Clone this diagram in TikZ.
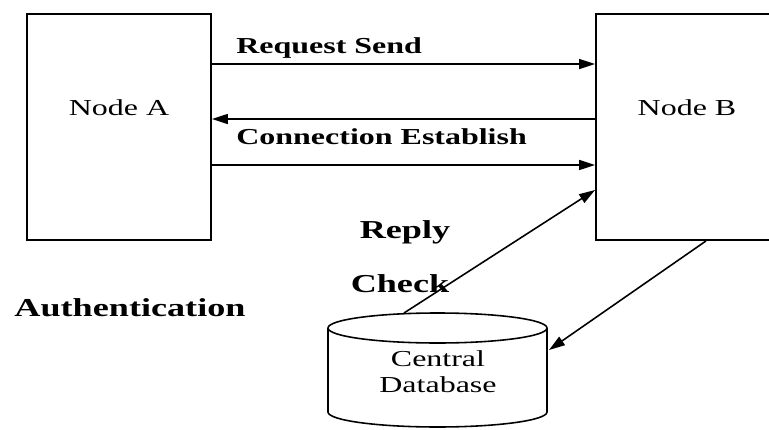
\documentclass[tikz,border=0pt]{standalone}
\usepackage{fontspec}
\setmainfont[FakeStretch=1.4]{Liberation Serif}
\usetikzlibrary{arrows.meta}
\tikzset{
  box/.style={
    draw,
    line width=1.1pt,
    minimum width=3.68cm,
    minimum height=4.52cm,
    inner sep=0pt
  },
  msg/.style={
    line width=0.9pt,
    -{Triangle[length=0.32cm,width=0.2cm]}
  },
  plain/.style={
    inner sep=0pt,
    font=\fontsize{13}{14.7}\selectfont
  },
  heading/.style={
    inner sep=0pt,
    font=\fontsize{13}{14.7}\selectfont\bfseries
  },
  bigheading/.style={
    inner sep=0pt,
    font=\fontsize{14.7}{16}\selectfont\bfseries
  }
}

\begin{document}
\begin{tikzpicture}[x=0.02cm,y=-0.02cm]
  \useasboundingbox (0,0) rectangle (769,430);
  % the two hosts
  \node[box] (nodeA) at (119,127) {};
  \node[box] (nodeB) at (688,127) {};
  \node[plain] (labelA) at (119,108) {Node A};
  \node[plain] (labelB) at (687,108) {Node B};
  % database drum
  \draw[line width=0.9pt] (328,328) -- (328,412)
    arc[start angle=180,end angle=0,x radius=109.5,y radius=15] -- (547,328);
  \draw[line width=0.9pt] (437.5,328) ellipse[x radius=109.5,y radius=15];
  \node[plain,align=center] (db) at (438,372) {Central\\Database};
  \coordinate (dbtop) at (404,313);
  \coordinate (dbright) at (549,350);
  % messages between the hosts
  \draw[msg] ([yshift=1.26cm]nodeA.east) -- ([yshift=1.26cm]nodeB.west);
  \draw[msg] ([yshift=0.16cm]nodeB.west) -- ([yshift=0.16cm]nodeA.east);
  \draw[msg] ([yshift=-0.76cm]nodeA.east) -- ([yshift=-0.76cm]nodeB.west);
  \draw[msg] (dbtop) -- ([yshift=-1.26cm]nodeB.west);
  \draw[msg] ([xshift=0.36cm]nodeB.south) -- (dbright);
  \node[heading,anchor=west] (send) at (236,48) {Request Send};
  \node[heading,anchor=west] (establish) at (236,137) {Connection Establish};
  \node[bigheading] (reply) at (405,232) {Reply};
  \node[bigheading] (check) at (400,284) {Check};
  \node[bigheading] (auth) at (130,308) {Authentication};
\end{tikzpicture}
\end{document}
